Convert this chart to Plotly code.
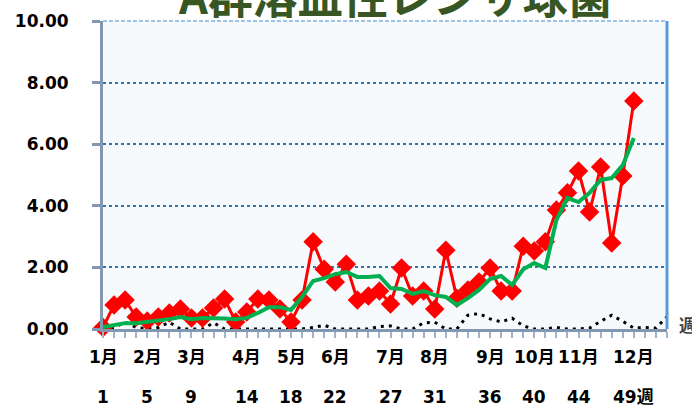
import plotly.graph_objects as go

weeks = list(range(1, 53))

# current year weekly reports per sentinel - red
current = [0.05, 0.78, 0.94, 0.39, 0.26, 0.39, 0.52, 0.65, 0.36, 0.36,
           0.68, 0.97, 0.23, 0.55, 0.97, 0.94, 0.65, 0.23, 0.94, 2.83,
           1.94, 1.53, 2.10, 0.94, 1.07, 1.23, 0.81, 1.98, 1.07, 1.23,
           0.65, 2.56, 1.00, 1.27, 1.53, 1.98, 1.23, 1.23, 2.69, 2.53,
           2.83, 3.86, 4.42, 5.13, 3.80, 5.26, 2.79, 4.97, 7.40]

# moving average - green
average = [0.06, 0.12, 0.19, 0.19, 0.23, 0.29, 0.32, 0.39, 0.32, 0.36,
           0.36, 0.34, 0.32, 0.36, 0.52, 0.71, 0.71, 0.62, 1.04, 1.56,
           1.65, 1.78, 1.85, 1.69, 1.69, 1.72, 1.33, 1.30, 1.14, 1.23,
           1.10, 1.04, 0.78, 1.00, 1.27, 1.62, 1.72, 1.43, 1.94, 2.14,
           1.98, 3.54, 4.25, 4.12, 4.42, 4.84, 4.90, 5.32, 6.20]

# previous year - black dotted
previous = [0.00, 0.05, 0.22, 0.05, 0.00, 0.05, 0.22, 0.00, 0.00, 0.00,
            0.20, 0.00, 0.00, 0.00, 0.00, 0.00, 0.00, 0.00, 0.00, 0.05,
            0.12, 0.00, 0.00, 0.00, 0.00, 0.08, 0.10, 0.00, 0.00, 0.20,
            0.22, 0.00, 0.00, 0.45, 0.50, 0.33, 0.23, 0.35, 0.10, 0.00,
            0.00, 0.05, 0.00, 0.00, 0.03, 0.25, 0.45, 0.25, 0.03, 0.05,
            0.03, 0.40]

label_weeks = [1, 5, 9, 14, 18, 22, 27, 31, 36, 40, 44, 49]
month_labels = ["1月", "2月", "3月", "4月", "5月", "6月", "7月", "8月",
                "9月", "10月", "11月", "12月"]
week_labels = ["1", "5", "9", "14", "18", "22", "27", "31", "36", "40",
               "44", "49週"]

title_text = "A群溶血性レンサ球菌"

fig = go.Figure()

fig.add_trace(go.Scatter(
    x=weeks[:len(previous)], y=previous, mode="lines",
    line=dict(color="#000000", width=3, dash="3px,5px"),
    cliponaxis=False, showlegend=False))

fig.add_trace(go.Scatter(
    x=weeks[:len(current)], y=current, mode="lines+markers",
    line=dict(color="#ff0000", width=3),
    marker=dict(symbol="diamond", size=15, color="#ff0000"),
    cliponaxis=False, showlegend=False))

fig.add_trace(go.Scatter(
    x=weeks[:len(average)], y=average, mode="lines",
    line=dict(color="#00b050", width=4),
    cliponaxis=False, showlegend=False))

lab_font = dict(family="DejaVu Sans, Noto Sans CJK JP", size=17,
                color="#000000", weight="bold")

annotations = []
for w, m, k in zip(label_weeks, month_labels, week_labels):
    annotations.append(dict(x=w, y=0, xref="x", yref="paper", text=m,
                            showarrow=False, yanchor="middle",
                            yshift=-28, font=lab_font))
    annotations.append(dict(x=w, y=0, xref="x", yref="paper", text=k,
                            showarrow=False, yanchor="middle",
                            yshift=-68, font=lab_font))

annotations.append(dict(x=1.037, y=0, xref="paper", yref="paper", text="週",
                        showarrow=False, yanchor="middle", xanchor="center",
                        yshift=5,
                        font=dict(family="Noto Sans CJK JP", size=17,
                                  color="#404040", weight="bold")))

annotations.append(dict(x=0.518, y=1, xref="paper", yref="paper",
                        text=title_text, showarrow=False,
                        yanchor="middle", yshift=27,
                        font=dict(family="Noto Sans CJK JP", size=45,
                                  color="#375623", weight="bold")))

fig.update_layout(
    width=692, height=409,
    margin=dict(l=103, r=25, t=21, b=80),
    paper_bgcolor="#ffffff",
    plot_bgcolor="#f7fafd",
    showlegend=False,
    annotations=annotations,
    shapes=[
        dict(type="line", xref="paper", yref="paper", x0=0, x1=1, y0=1, y1=1,
             line=dict(color="#9dc3e6", width=2, dash="4px,2px")),
        dict(type="line", xref="paper", yref="paper", x0=1, x1=1, y0=0, y1=1,
             line=dict(color="#5b9bd5", width=3)),
    ],
)

fig.update_xaxes(
    range=[1, 52], showgrid=False, zeroline=False,
    showline=True, linecolor="#8497b0", linewidth=3,
    ticks="outside", tickmode="linear", tick0=1, dtick=1,
    ticklen=6, tickwidth=2, tickcolor="#9fb3cc",
    showticklabels=False,
)

fig.update_yaxes(
    range=[0, 10], tickmode="linear", tick0=0, dtick=2,
    tickformat=".2f",
    showgrid=True, gridcolor="#2e75b6", gridwidth=2, griddash="dot",
    zeroline=False,
    showline=True, linecolor="#8497b0", linewidth=3,
    ticks="outside", ticklen=8, tickwidth=3, tickcolor="#8497b0",
    ticklabelstandoff=20,
    tickfont=dict(family="DejaVu Sans", size=17, color="#000000",
                  weight="bold"),
)

fig.write_html("out.html",
               config={"displayModeBar": False},
               post_script="document.body.style.margin='0';"
                           "document.body.style.overflow='hidden';")
